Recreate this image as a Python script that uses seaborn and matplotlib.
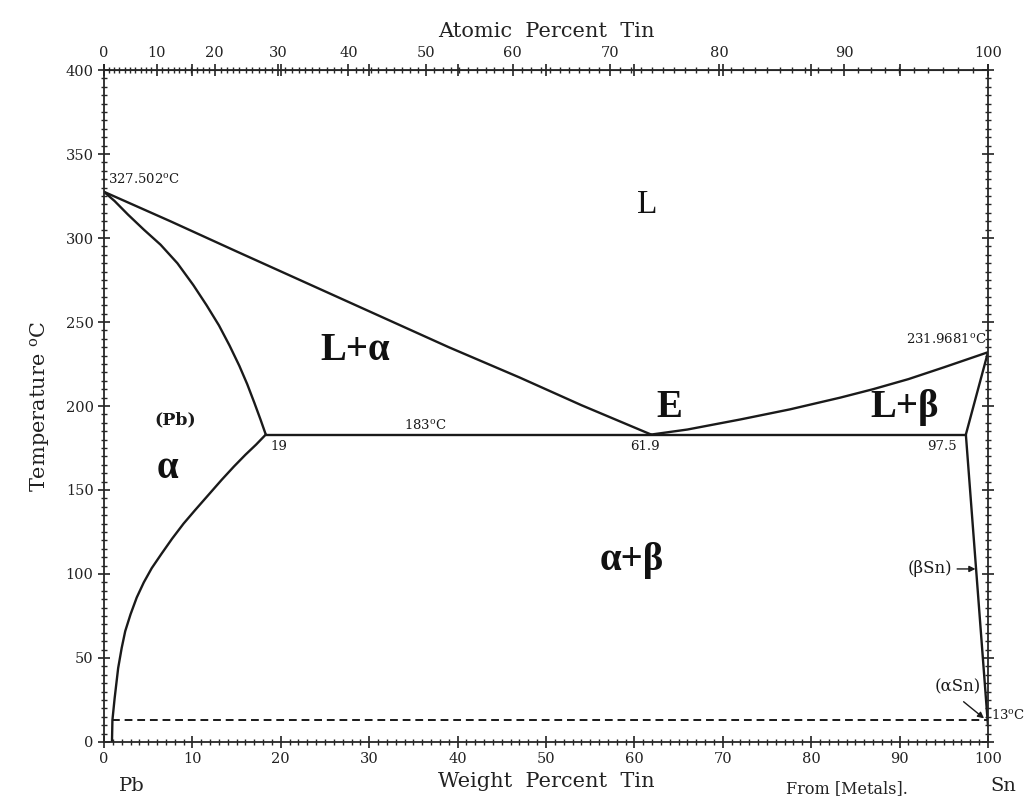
import numpy as np
import pandas as pd
import matplotlib
matplotlib.use("Agg")
import matplotlib.pyplot as plt
import seaborn as sns
from matplotlib.ticker import MultipleLocator, FixedLocator

# --- phase boundary data (weight percent Sn, temperature C) ---
liq_pb_wt = [0, 7.5, 15, 23, 31, 39, 47, 54, 61.9]
liq_pb_T = [327.5, 310, 292, 273, 254, 235, 217, 200.5, 183]

sol_pb_wt = [0, 1.2, 2.7, 4.5, 6.4, 8.3, 10.1, 11.6, 13.0, 14.2, 15.3, 16.2, 17.0, 17.7, 18.3]
sol_pb_T = [327.5, 322, 314, 305, 296, 285, 272, 260, 248, 236, 224, 213, 202, 192, 183]

solv_pb_wt = [0.9, 0.95, 1.2, 1.6, 2.0, 2.4, 3.0, 3.7, 4.5, 5.4, 6.5, 7.7, 9.0, 10.3, 11.8, 13.3, 14.7, 16.0, 17.2, 18.3]
solv_pb_T = [0, 13, 26, 44, 56, 66, 76, 86, 95, 103.5, 112, 121, 130, 138, 147, 156, 164, 171, 177, 183]

eut_wt = [18.3, 97.5]
eut_T = [183, 183]

liq_sn_wt = [61.9, 66, 72, 77.6, 83.3, 87, 91, 95, 100]
liq_sn_T = [183, 186, 192, 198, 205, 210, 216, 223, 232]

sol_sn_wt = [97.5, 100]
sol_sn_T = [183, 231.97]

solv_sn_wt = [97.5, 100]
solv_sn_T = [183, 10]

trans_wt = [0.95, 100]
trans_T = [13, 13]

M_SN, M_PB = 118.71, 207.2


def wt_to_at(w):
    w = np.clip(np.asarray(w, dtype=float), 0, 100)
    a = w / M_SN
    b = (100 - w) / M_PB
    return 100 * a / (a + b)


def at_to_wt(x):
    x = np.clip(np.asarray(x, dtype=float), 0, 100)
    a = x * M_SN
    b = (100 - x) * M_PB
    return 100 * a / (a + b)


sns.set_style("ticks")
plt.rcParams['font.family'] = ['DejaVu Serif']
plt.rcParams['mathtext.fontset'] = 'dejavuserif'

fig = plt.figure(figsize=(10.33, 8.05), dpi=100)
ax = fig.add_axes([0.1007, 0.0783, 0.8557, 0.8347])

# solid boundaries
for xs, ys in [(liq_pb_wt, liq_pb_T), (sol_pb_wt, sol_pb_T), (solv_pb_wt, solv_pb_T),
               (eut_wt, eut_T), (liq_sn_wt, liq_sn_T), (sol_sn_wt, sol_sn_T),
               (solv_sn_wt, solv_sn_T)]:
    df = pd.DataFrame({"wt": xs, "T": ys})
    sns.lineplot(data=df, x="wt", y="T", sort=False, estimator=None,
                 color="#1a1a1a", lw=1.7, ax=ax)

# 13 C allotropic transformation (dashed)
df = pd.DataFrame({"wt": trans_wt, "T": trans_T})
sns.lineplot(data=df, x="wt", y="T", sort=False, estimator=None,
             color="#1a1a1a", lw=1.4, ax=ax, linestyle=(0, (4, 2.5)))

ax.set_xlim(0, 100)
ax.set_ylim(0, 400)

# axes / ticks
for s in ax.spines.values():
    s.set_linewidth(1.3)
    s.set_visible(True)
ax.xaxis.set_major_locator(MultipleLocator(10))
ax.xaxis.set_minor_locator(MultipleLocator(1))
ax.yaxis.set_major_locator(MultipleLocator(50))
ax.yaxis.set_minor_locator(MultipleLocator(5))
ax.tick_params(which="major", direction="inout", length=8, width=1.2,
               labelsize=10.5, colors="#222222")
ax.tick_params(which="minor", direction="inout", length=4, width=1)
ax.tick_params(axis="y", which="both", right=True)
ax.tick_params(axis="x", which="major", top=True, direction="in")
ax.tick_params(axis="x", which="major", bottom=True, direction="inout")
ax.set_xlabel("Weight  Percent  Tin", fontsize=15, labelpad=4, color="#222222")
ax.set_ylabel("Temperature $^{\\mathrm{o}}$C", fontsize=15, labelpad=10, color="#222222")

secax = ax.secondary_xaxis("top", functions=(wt_to_at, at_to_wt))
secax.xaxis.set_major_locator(FixedLocator(list(range(0, 101, 10))))
secax.xaxis.set_minor_locator(FixedLocator(list(range(0, 101, 1))))
secax.tick_params(which="major", direction="inout", length=8, width=1.2,
                  labelsize=10.5, colors="#222222")
secax.tick_params(which="minor", direction="inout", length=4, width=1)
secax.set_xlabel("Atomic  Percent  Tin", fontsize=15, labelpad=6, color="#222222")

deg = "$^{\\mathrm{o}}$C"
small = dict(fontsize=9.5, color="#1a1a1a")
big = dict(fontsize=28, fontweight="bold", family="Liberation Serif", color="#111111")

ax.text(0.4, 331, "327.502" + deg, ha="left", va="bottom", **small)
ax.text(61.5, 320, "L", ha="center", va="center", fontsize=24,
        family="Liberation Serif", color="#111111")
ax.text(28.4, 233, "L+\u03b1", ha="center", va="center", **big)
ax.text(8.0, 192, "(Pb)", ha="center", va="center", fontsize=12.5,
        fontweight="bold", color="#1a1a1a")
ax.text(7.2, 163, "\u03b1", ha="center", va="center", **big)
ax.text(18.8, 180, "19", ha="left", va="top", **small)
ax.text(36.3, 184.5, "183" + deg, ha="center", va="bottom", **small)
ax.text(64.0, 199, "E", ha="center", va="center", **big)
ax.text(61.2, 180, "61.9", ha="center", va="top", **small)
ax.text(90.6, 199, "L+\u03b2", ha="center", va="center", **big)
ax.text(96.5, 180, "97.5", ha="right", va="top", **small)
ax.text(99.8, 236, "231.9681" + deg, ha="right", va="bottom", **small)
ax.text(59.7, 108, "\u03b1+\u03b2", ha="center", va="center", **big)
ax.text(96.0, 103, "(\u03b2Sn)", ha="right", va="center", fontsize=12, color="#1a1a1a")
ax.annotate("", xy=(98.9, 103), xytext=(96.2, 103),
            arrowprops=dict(arrowstyle="-|>", color="#1a1a1a", lw=1, mutation_scale=9))
ax.text(96.6, 33, "(\u03b1Sn)", ha="center", va="center", fontsize=12, color="#1a1a1a")
ax.annotate("", xy=(99.8, 13), xytext=(97.0, 25),
            arrowprops=dict(arrowstyle="-|>", color="#1a1a1a", lw=1, mutation_scale=9))
ax.text(100.3, 16, "13" + deg, ha="left", va="center", clip_on=False, **small)

ax.text(0.032, -0.065, "Pb", transform=ax.transAxes, ha="center", va="center",
        fontsize=14, color="#222222")
ax.text(1.017, -0.065, "Sn", transform=ax.transAxes, ha="center", va="center",
        fontsize=14, color="#222222")
ax.text(0.84, -0.07, "From [Metals].", transform=ax.transAxes, ha="center",
        va="center", fontsize=11.5, color="#222222")

fig.savefig("out.png", dpi=100, facecolor="white")
